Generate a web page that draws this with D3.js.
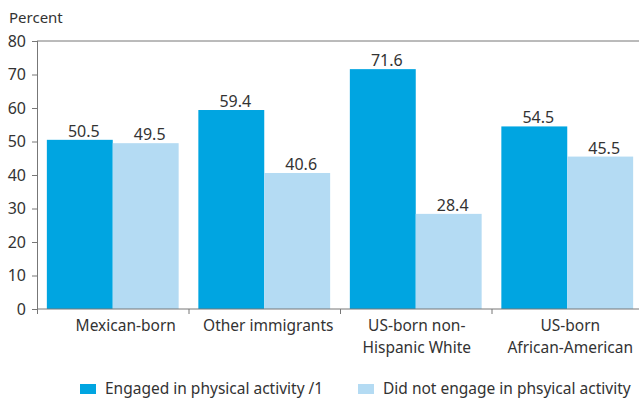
<!DOCTYPE html>
<html>
<head>
<meta charset="utf-8">
<script src="https://cdn.jsdelivr.net/npm/d3@7"></script>
<style>
  body { margin: 0; background: #fff; }
  text { font-family: "Noto Sans", sans-serif; fill: #333; }
</style>
</head>
<body>
<script>
// chart data
let categories = [["Mexican-born"], ["Other immigrants"], ["US-born non-", "Hispanic White"], ["US-born", "African-American"]];
let seriesNames = ["Engaged in physical activity /1", "Did not engage in phsyical activity"];
let engaged = [50.5, 59.4, 71.6, 54.5];
let notEngaged = [49.5, 40.6, 28.4, 45.5];
let yTicks = [0, 10, 20, 30, 40, 50, 60, 70, 80];

let colors = ["#00a5e1", "#b4dbf3"];
// small horizontal nudges of the category labels, as in the original
let labelShift = [13, 4, 1, 3];

let margin = {top: 41, right: -4, bottom: 89, left: 37};
let width = 639 - margin.left - margin.right;
let height = 398 - margin.top - margin.bottom;

let svg = d3.select("body").append("svg")
    .attr("width", 639)
    .attr("height", 398);

let g = svg.append("g")
    .attr("transform", "translate(" + margin.left + "," + margin.top + ")");

// scales
let x0 = d3.scaleBand()
    .domain(d3.range(categories.length))
    .range([0, width])
    .paddingInner(0.13)
    .paddingOuter(0.065);

let x1 = d3.scaleBand()
    .domain([0, 1])
    .range([0, x0.bandwidth()]);

let yScale = d3.scaleLinear().domain([0, 80]).range([height, 0]);

let step = x0.step();

// top border line
g.append("line")
    .attr("x1", 0).attr("x2", 639 - margin.left)
    .attr("y1", yScale(80)).attr("y2", yScale(80))
    .attr("stroke", "#777").attr("stroke-width", 1);

// bars
let rows = categories.map(function(c, i) { return [engaged[i], notEngaged[i]]; });

let groups = g.selectAll(".grp")
    .data(rows)
  .enter().append("g")
    .attr("class", "grp")
    .attr("transform", function(d, i) { return "translate(" + x0(i) + ",0)"; });

groups.selectAll("rect")
    .data(function(d) { return d; })
  .enter().append("rect")
    .attr("x", function(d, j) { return x1(j); })
    .attr("width", x1.bandwidth())
    .attr("y", function(d) { return yScale(d); })
    .attr("height", function(d) { return height - yScale(d); })
    .attr("fill", function(d, j) { return colors[j]; });

groups.selectAll(".val")
    .data(function(d) { return d; })
  .enter().append("text")
    .attr("class", "val")
    .attr("x", function(d, j) { return x1(j) + x1.bandwidth() / 2 + 4; })
    .attr("y", function(d) { return yScale(d) - 3; })
    .attr("text-anchor", "middle")
    .style("font-size", "16px")
    .text(function(d) { return d.toFixed(1); });

// y axis
let yAxis = g.append("g")
    .call(d3.axisLeft(yScale).tickValues(yTicks).tickSize(5).tickPadding(6));
yAxis.select(".domain").attr("stroke", "#777").attr("d", "M0.5," + height + "V0");
yAxis.selectAll(".tick line").attr("stroke", "#777");
yAxis.selectAll("text").style("font-size", "16px").style("font-family", "Noto Sans").attr("fill", "#333");

// x axis: ticks at band boundaries
let xAxis = g.append("g")
    .attr("transform", "translate(0," + height + ")");
xAxis.append("line")
    .attr("x1", 0).attr("x2", width)
    .attr("stroke", "#777");
xAxis.selectAll(".xt")
    .data(d3.range(categories.length + 1))
  .enter().append("line")
    .attr("x1", function(i) { return 0.5 + i * step; })
    .attr("x2", function(i) { return 0.5 + i * step; })
    .attr("y1", 0).attr("y2", 5)
    .attr("stroke", "#777");

let labels = xAxis.selectAll(".cat")
    .data(categories)
  .enter().append("text")
    .attr("class", "cat")
    .attr("text-anchor", "middle")
    .attr("transform", function(d, i) { return "translate(" + (x0(i) + x0.bandwidth() / 2 + labelShift[i]) + ",0)"; })
    .style("font-size", "15.5px");

labels.selectAll("tspan")
    .data(function(d) { return d; })
  .enter().append("tspan")
    .attr("x", 0)
    .attr("y", function(d, k) { return 22 + k * 22; })
    .text(function(d) { return d; });

// axis title
svg.append("text")
    .attr("x", 9).attr("y", 23)
    .style("font-size", "15px")
    .text("Percent");

// legend
let legendX = [80, 358];
let legend = svg.selectAll(".leg")
    .data(seriesNames)
  .enter().append("g")
    .attr("class", "leg")
    .attr("transform", function(d, i) { return "translate(" + legendX[i] + ",384)"; });

legend.append("rect")
    .attr("width", 16).attr("height", 10)
    .attr("fill", function(d, i) { return colors[i]; });

legend.append("text")
    .attr("x", 25).attr("y", 10)
    .style("font-size", "15.5px")
    .text(function(d) { return d; });
</script>
</body>
</html>
